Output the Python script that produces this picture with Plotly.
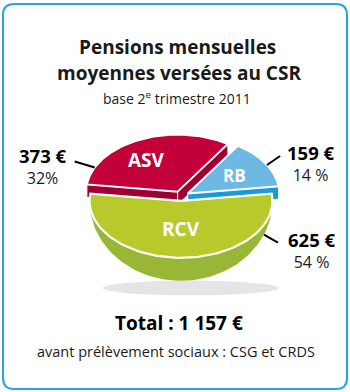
import numpy as np
import plotly.graph_objects as go

# Pension components (monthly average, €) and their shares
categories = ["RCV", "ASV", "RB"]
amounts = [625, 373, 159]
amount_labels = ["625 €", "373 €", "159 €"]
share_labels = ["54 %", "32%", "14 %"]
total_label = "Total : 1 157 €"

W, H = 350, 392
CX, CY = 181.0, 196.0      # pie centre
RX, RY = 91.5, 57.0        # top ellipse half-axes
BOWL = 80.0                # vertical half-axis of the rounded underside
DEPTH = 13.0               # thickness of the cut faces
EXPLODE = 8.0

top_color = {"ASV": "#c3003a", "RB": "#6db9e4", "RCV": "#b8c92b"}
side_color = {"ASV": "#9d0031", "RB": "#1a9ad6", "RCV": "#98b737"}
FONT = "Open Sans"

total = float(sum(amounts))
spans = [360.0 * a / total for a in amounts]
start0 = 90.0 - spans[0] / 2.0   # first slice centred at the bottom

slices = []
a = start0
for name, span in zip(categories, spans):
    b = a + span
    m = np.radians((a + b) / 2.0)
    cx = CX + EXPLODE * np.cos(m)
    cy = CY + EXPLODE * 0.6 * np.sin(m)
    slices.append(dict(name=name, a=a, b=b, cx=cx, cy=cy))
    a = b


def rim(s, deg):
    t = np.radians(deg)
    return s["cx"] + RX * np.cos(t), s["cy"] + RY * np.sin(t)


def arc(s, d0, d1, n=80):
    t = np.radians(np.linspace(d0, d1, n))
    return s["cx"] + RX * np.cos(t), s["cy"] + RY * np.sin(t)


fig = go.Figure()


def poly(xs, ys, fill, line_color=None, line_width=0):
    fig.add_trace(go.Scatter(
        x=list(xs) + [xs[0]], y=list(ys) + [ys[0]], mode="lines",
        fill="toself", fillcolor=fill,
        line=dict(color=line_color or fill, width=line_width),
        hoverinfo="skip", showlegend=False))


# ground shadow
t = np.linspace(0, 2 * np.pi, 120)
poly(CX + 10 + 88 * np.cos(t), CY + BOWL + 12 + 7.5 * np.sin(t), "#e4e5e7")

# cut faces of the back slices (only those turned toward the viewer)
back = [s for s in slices if s["name"] != "RCV"]
for s in back:
    for deg, sign in ((s["a"], -1), (s["b"], 1)):
        ny = sign * np.cos(np.radians(deg))
        if ny <= 0:
            continue
        rx_, ry_ = rim(s, deg)
        xs = [s["cx"], rx_, rx_, s["cx"]]
        ys = [s["cy"], ry_, ry_ + DEPTH, s["cy"] + DEPTH]
        poly(xs, ys, side_color[s["name"]], "white", 1)

# top faces of the back slices
for s in back:
    ax, ay = arc(s, s["a"], s["b"])
    poly([s["cx"]] + list(ax), [s["cy"]] + list(ay), top_color[s["name"]], "white", 2)

# front slice: rounded underside then its top face
front = slices[0]
ax, ay = arc(front, front["a"], front["b"])
bt = np.radians(np.linspace(front["b"], front["a"], 120))
bx = front["cx"] + RX * np.cos(bt)
by = front["cy"] + np.where(np.sin(bt) > 0, BOWL, RY) * np.sin(bt)
poly(list(ax) + list(bx), list(ay) + list(by), side_color["RCV"])
poly([front["cx"]] + list(ax), [front["cy"]] + list(ay), top_color["RCV"], "white", 2.2)

# slice names
name_pos = {"RCV": 0.5, "ASV": 0.62, "RB": 0.6}
name_size = {"RCV": 19, "ASV": 19, "RB": 17}
for s in slices:
    m = (s["a"] + s["b"]) / 2.0
    r = name_pos[s["name"]]
    px, py = rim(s, m)
    x = s["cx"] + r * (px - s["cx"])
    y = s["cy"] + r * (py - s["cy"])
    if s["name"] == "ASV":
        x -= 7
    fig.add_annotation(x=x, y=y, text="<b>%s</b>" % s["name"], showarrow=False,
                       font=dict(family=FONT, size=name_size[s["name"]], color="white"))

# value labels (amount over share) with leader lines
leader = {"RCV": (25, 14, 8, 312, 250), "ASV": (205, -20, -6, 43, 165.5),
          "RB": (330, 13, -9, 311, 162.5)}
for s, amt, shr in zip(slices, amount_labels, share_labels):
    deg, dx, dy, lx, ly = leader[s["name"]]
    tt = np.radians(deg)
    ry_ = BOWL if (s["name"] == "RCV" and np.sin(tt) > 0) else RY
    sx = s["cx"] + RX * np.cos(tt)
    sy = s["cy"] + ry_ * np.sin(tt)
    fig.add_trace(go.Scatter(x=[sx, sx + dx], y=[sy, sy + dy], mode="lines",
                             line=dict(color="black", width=2),
                             hoverinfo="skip", showlegend=False))
    fig.add_annotation(
        x=lx, y=ly, showarrow=False,
        text=("<span style='font-size:18.5px;color:black'><b>%s</b></span><br>%s"
              % (amt, shr)),
        font=dict(family=FONT, size=16, color="#1a1a1a"))

# titles
fig.add_annotation(x=177, y=47, text="<b>Pensions mensuelles</b>", showarrow=False,
                   font=dict(family=FONT, size=19, color="#1a1a1a"))
fig.add_annotation(x=179, y=73, text="<b>moyennes versées au CSR</b>", showarrow=False,
                   font=dict(family=FONT, size=19, color="#1a1a1a"))
fig.add_annotation(x=177, y=98, text="base 2<sup>e</sup> trimestre 2011", showarrow=False,
                   font=dict(family=FONT, size=14, color="#1a1a1a"))
fig.add_annotation(x=179, y=323, text="<b>%s</b>" % total_label, showarrow=False,
                   font=dict(family=FONT, size=19, color="black"))
fig.add_annotation(x=176, y=351, text="avant prélèvement sociaux : CSG et CRDS",
                   showarrow=False, font=dict(family=FONT, size=14.5, color="#1a1a1a"))

# rounded frame
x0, y0, x1, y1, r = 3, 4, 347, 389, 11
path = (f"M{x0 + r},{y0} L{x1 - r},{y0} Q{x1},{y0} {x1},{y0 + r} "
        f"L{x1},{y1 - r} Q{x1},{y1} {x1 - r},{y1} L{x0 + r},{y1} "
        f"Q{x0},{y1} {x0},{y1 - r} L{x0},{y0 + r} Q{x0},{y0} {x0 + r},{y0} Z")
fig.add_shape(type="path", path=path, xref="x", yref="y",
              line=dict(color="#2aa3e2", width=2), layer="below")

fig.update_layout(
    width=W, height=H, margin=dict(l=0, r=0, t=0, b=0),
    paper_bgcolor="white", plot_bgcolor="white", showlegend=False,
    xaxis=dict(range=[0, W], visible=False, fixedrange=True),
    yaxis=dict(range=[H, 0], visible=False, fixedrange=True),
)

fig.write_html("out.html", config={"displayModeBar": False})
